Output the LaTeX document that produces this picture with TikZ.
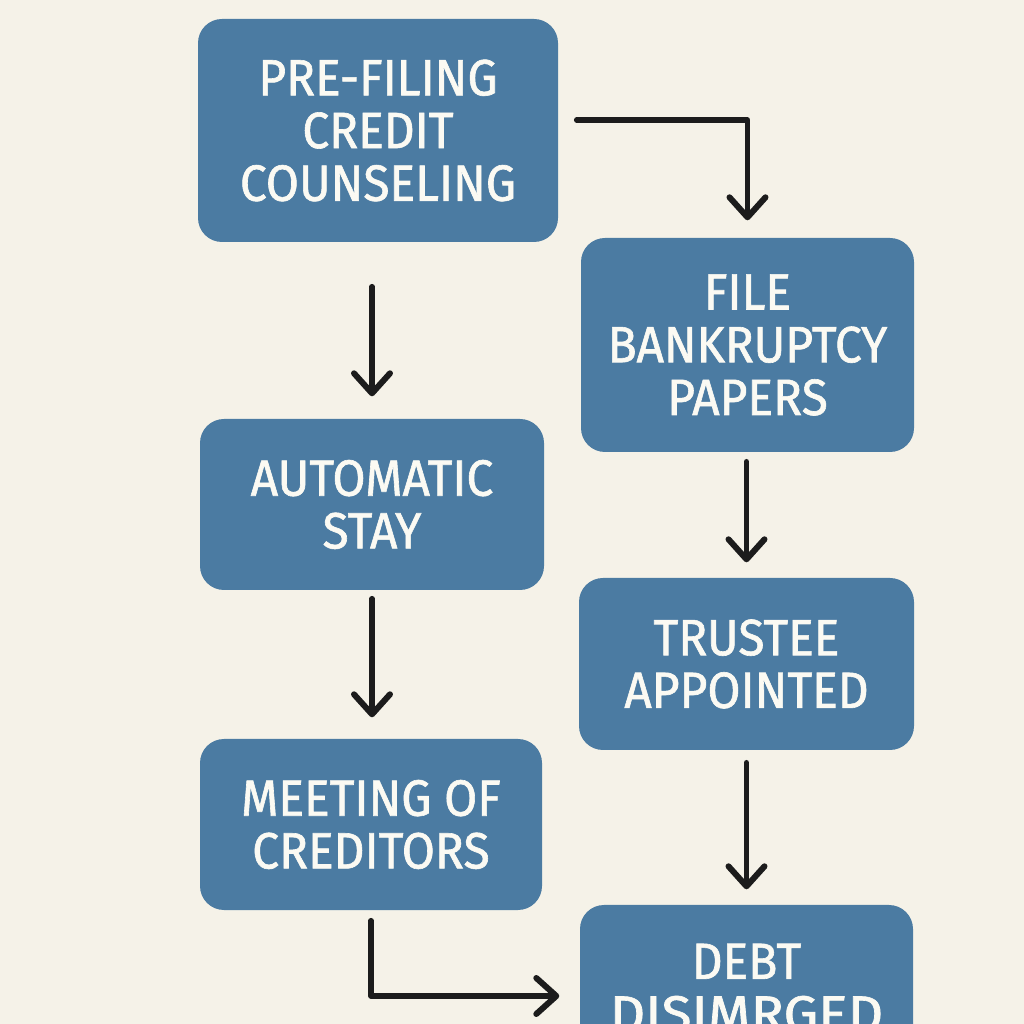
\documentclass[tikz,border=0pt]{standalone}
\usepackage{fontspec}
\setmainfont{Fira Sans}[FakeStretch=0.94,FakeBold=1.2]
\usetikzlibrary{arrows.meta}
\definecolor{paper}{HTML}{F5F2E8}
\definecolor{slate}{HTML}{4B7BA2}
\definecolor{ink}{HTML}{1C1C1C}
\definecolor{chalk}{HTML}{FBFAF3}

\begin{document}
\begin{tikzpicture}[
          stepbox/.style={fill=slate,rounded corners=0.24cm,inner sep=0pt,text=chalk,align=center,
            font=\fontsize{14.5}{15}\selectfont},
          flow/.style={draw=ink,line width=0.055cm,line cap=round,line join=round,
            -{Straight Barb[round,length=0.2cm,width=0.36cm,line width=0.06cm]}},
        ]
        \useasboundingbox (0, 0) rectangle (10.24, 10.24);
        \clip (0, 0) rectangle (10.24, 10.24);
        \fill[paper] (0, 0) rectangle (10.24, 10.24);

        \node[stepbox,minimum width=3.6cm,minimum height=2.23cm]  (counseling) at (3.78, 8.935) {PRE-FILING\\CREDIT\\COUNSELING};
        \node[stepbox,minimum width=3.33cm,minimum height=2.14cm] (papers)     at (7.475, 6.79) {FILE\\BANKRUPTCY\\PAPERS};
        \node[stepbox,minimum width=3.44cm,minimum height=1.71cm] (stay)       at (3.72, 5.195) {AUTOMATIC\\STAY};
        \node[stepbox,minimum width=3.35cm,minimum height=1.72cm] (trustee)    at (7.465, 3.60) {TRUSTEE\\APPOINTED};
        \node[stepbox,minimum width=3.42cm,minimum height=1.71cm] (creditors)  at (3.71, 1.995) {MEETING OF\\CREDITORS};
        \node[stepbox,minimum width=3.33cm,minimum height=1.66cm] (debt)       at (7.465, 0.36) {DEBT\\\scalebox{1.15}[1]{DISIMRGED}};

        \draw[flow,shorten <=0.18cm,shorten >=0.17cm] ([yshift=0.105cm]counseling.east) -| (papers.north);
        \draw[flow,shorten <=0.44cm,shorten >=0.22cm] (stay.north |- counseling.south) -- (stay.north);
        \draw[flow,shorten <=0.09cm,shorten >=0.15cm] (papers.south -| trustee.north) -- (trustee.north);
        \draw[flow,shorten <=0.08cm,shorten >=0.21cm] (stay.south) -- (stay.south |- creditors.north);
        \draw[flow,shorten <=0.12cm,shorten >=0.15cm] (trustee.south) -- (debt.north);
        \draw[flow,shorten <=0.10cm,shorten >=0.20cm] (creditors.south) |- ([yshift=-0.08cm]debt.west);
      \end{tikzpicture}
\end{document}
